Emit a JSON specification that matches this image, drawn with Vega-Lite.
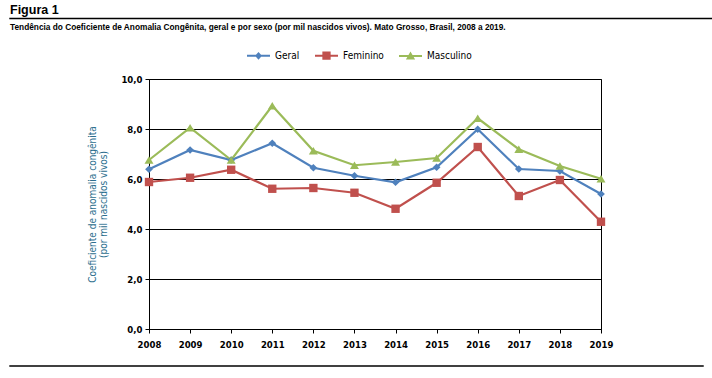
{
  "$schema": "https://vega.github.io/schema/vega-lite/v6.json",
  "width": 452,
  "height": 250,
  "autosize": {"type": "none"},
  "padding": {"left": 149, "top": 79, "right": 111, "bottom": 49},
  "background": "white",
  "title": {
    "text": "Figura 1",
    "subtitle": "Tendência do Coeficiente de Anomalia Congênita, geral e por sexo (por mil nascidos vivos). Mato Grosso, Brasil, 2008 a 2019.",
    "anchor": "start",
    "frame": "group",
    "dx": -139,
    "dy": 26,
    "offset": 12,
    "font": "Liberation Sans Narrow, sans-serif",
    "fontSize": 12.5,
    "fontWeight": "bold",
    "color": "black",
    "subtitleFont": "Liberation Sans Narrow, sans-serif",
    "subtitleFontSize": 8.3,
    "subtitleFontWeight": "bold",
    "subtitleColor": "black",
    "subtitlePadding": 7
  },
  "config": {
    "view": {"stroke": "black", "strokeWidth": 1},
    "axis": {
      "labelFont": "DejaVu Sans Condensed, sans-serif",
      "labelFontSize": 9.5,
      "labelFontWeight": "bold",
      "labelColor": "black",
      "labelFlush": false,
      "labelOverlap": false,
      "domainColor": "black",
      "tickColor": "black",
      "gridColor": "black",
      "gridOpacity": 1,
      "gridWidth": 1,
      "tickSize": 4
    },
    "legend": {
      "labelFont": "DejaVu Sans Condensed, sans-serif",
      "labelFontSize": 10,
      "labelFontWeight": "normal",
      "labelColor": "black"
    }
  },
  "data": {
    "values": [
      {"ano": 2008, "serie": "Geral", "valor": 6.39},
      {"ano": 2009, "serie": "Geral", "valor": 7.16},
      {"ano": 2010, "serie": "Geral", "valor": 6.76},
      {"ano": 2011, "serie": "Geral", "valor": 7.43},
      {"ano": 2012, "serie": "Geral", "valor": 6.45},
      {"ano": 2013, "serie": "Geral", "valor": 6.13},
      {"ano": 2014, "serie": "Geral", "valor": 5.87},
      {"ano": 2015, "serie": "Geral", "valor": 6.47},
      {"ano": 2016, "serie": "Geral", "valor": 7.99},
      {"ano": 2017, "serie": "Geral", "valor": 6.40},
      {"ano": 2018, "serie": "Geral", "valor": 6.32},
      {"ano": 2019, "serie": "Geral", "valor": 5.40},
      {"ano": 2008, "serie": "Feminino", "valor": 5.88},
      {"ano": 2009, "serie": "Feminino", "valor": 6.05},
      {"ano": 2010, "serie": "Feminino", "valor": 6.37},
      {"ano": 2011, "serie": "Feminino", "valor": 5.61},
      {"ano": 2012, "serie": "Feminino", "valor": 5.64},
      {"ano": 2013, "serie": "Feminino", "valor": 5.45},
      {"ano": 2014, "serie": "Feminino", "valor": 4.81},
      {"ano": 2015, "serie": "Feminino", "valor": 5.85},
      {"ano": 2016, "serie": "Feminino", "valor": 7.28},
      {"ano": 2017, "serie": "Feminino", "valor": 5.32},
      {"ano": 2018, "serie": "Feminino", "valor": 5.96},
      {"ano": 2019, "serie": "Feminino", "valor": 4.29},
      {"ano": 2008, "serie": "Masculino", "valor": 6.76},
      {"ano": 2009, "serie": "Masculino", "valor": 8.05},
      {"ano": 2010, "serie": "Masculino", "valor": 6.76},
      {"ano": 2011, "serie": "Masculino", "valor": 8.93},
      {"ano": 2012, "serie": "Masculino", "valor": 7.13},
      {"ano": 2013, "serie": "Masculino", "valor": 6.55},
      {"ano": 2014, "serie": "Masculino", "valor": 6.68},
      {"ano": 2015, "serie": "Masculino", "valor": 6.84},
      {"ano": 2016, "serie": "Masculino", "valor": 8.43},
      {"ano": 2017, "serie": "Masculino", "valor": 7.19},
      {"ano": 2018, "serie": "Masculino", "valor": 6.52},
      {"ano": 2019, "serie": "Masculino", "valor": 6.01}
    ]
  },
  "encoding": {
    "x": {
      "field": "ano",
      "type": "quantitative",
      "scale": {"domain": [2008, 2019], "nice": false, "zero": false},
      "axis": {
        "title": null,
        "values": [2008, 2009, 2010, 2011, 2012, 2013, 2014, 2015, 2016, 2017, 2018, 2019],
        "format": "d",
        "grid": false,
        "labelPadding": 6
      }
    },
    "y": {
      "field": "valor",
      "type": "quantitative",
      "scale": {"domain": [0, 10], "nice": false},
      "axis": {
        "values": [0, 2, 4, 6, 8, 10],
        "labelExpr": "replace(format(datum.value, '.1f'), '.', ',')",
        "labelPadding": 3,
        "title": ["Coeficiente de anomalia congênita", "(por mil nascidos vivos)"],
        "titleFont": "DejaVu Sans Condensed, sans-serif",
        "titleFontSize": 10,
        "titleFontWeight": "normal",
        "titleColor": "#2C6E8E",
        "titlePadding": 12,
        "titleLineHeight": 11
      }
    }
  },
  "layer": [
    {
      "transform": [{"filter": "datum.serie === 'Geral'"}],
      "mark": {"type": "line", "strokeWidth": 2.2, "color": "#4F81BD"}
    },
    {
      "transform": [{"filter": "datum.serie === 'Feminino'"}],
      "mark": {"type": "line", "strokeWidth": 2.2, "color": "#C0504D"}
    },
    {
      "transform": [{"filter": "datum.serie === 'Masculino'"}],
      "mark": {"type": "line", "strokeWidth": 2.2, "color": "#9BBB59"}
    },
    {
      "transform": [{"filter": "datum.serie === 'Geral'"}],
      "mark": {"type": "point", "filled": true, "opacity": 1, "shape": "diamond", "size": 60, "color": "#4F81BD"}
    },
    {
      "transform": [{"filter": "datum.serie === 'Feminino'"}],
      "mark": {"type": "point", "filled": true, "opacity": 1, "shape": "square", "size": 70, "color": "#C0504D"}
    },
    {
      "transform": [{"filter": "datum.serie === 'Masculino'"}],
      "mark": {"type": "point", "filled": true, "opacity": 1, "shape": "triangle-up", "size": 80, "color": "#9BBB59"}
    },
    {
      "mark": {"type": "point", "filled": true, "size": 0},
      "encoding": {
        "color": {
          "field": "serie",
          "type": "nominal",
          "scale": {
            "domain": ["Geral", "Feminino", "Masculino"],
            "range": ["#4F81BD", "#C0504D", "#9BBB59"]
          },
          "legend": {
            "title": null,
            "orient": "none",
            "direction": "horizontal",
            "legendX": 97,
            "legendY": -36,
            "symbolSize": 529,
            "symbolOpacity": 1,
            "labelOffset": 4,
            "columnPadding": 12
          }
        },
        "shape": {
          "field": "serie",
          "type": "nominal",
          "scale": {
            "domain": ["Geral", "Feminino", "Masculino"],
            "range": [
              "M-1,-0.087H1V0.087H-1ZM0,-0.33L0.3,0L0,0.33L-0.3,0Z",
              "M-1,-0.087H1V0.087H-1ZM-0.36,-0.36H0.36V0.36H-0.36Z",
              "M-1,-0.087H1V0.087H-1ZM0,-0.38L0.4,0.32H-0.4Z"
            ]
          },
          "legend": {
            "title": null,
            "orient": "none",
            "direction": "horizontal",
            "legendX": 97,
            "legendY": -36,
            "symbolSize": 529,
            "symbolOpacity": 1,
            "labelOffset": 4,
            "columnPadding": 12
          }
        }
      }
    },
    {
      "transform": [{"filter": "datum.ano === 2008 && datum.serie === 'Geral'"}],
      "mark": {"type": "rule", "color": "black", "strokeWidth": 1.5, "clip": false},
      "encoding": {
        "x": {"datum": 2004.6, "type": "quantitative"},
        "x2": {"datum": 2021.72},
        "y": {"datum": 12.42, "type": "quantitative"}
      }
    },
    {
      "transform": [{"filter": "datum.ano === 2008 && datum.serie === 'Geral'"}],
      "mark": {"type": "rule", "color": "black", "strokeWidth": 1.5, "clip": false},
      "encoding": {
        "x": {"datum": 2004.6, "type": "quantitative"},
        "x2": {"datum": 2021.5},
        "y": {"datum": -1.48, "type": "quantitative"}
      }
    }
  ]
}
